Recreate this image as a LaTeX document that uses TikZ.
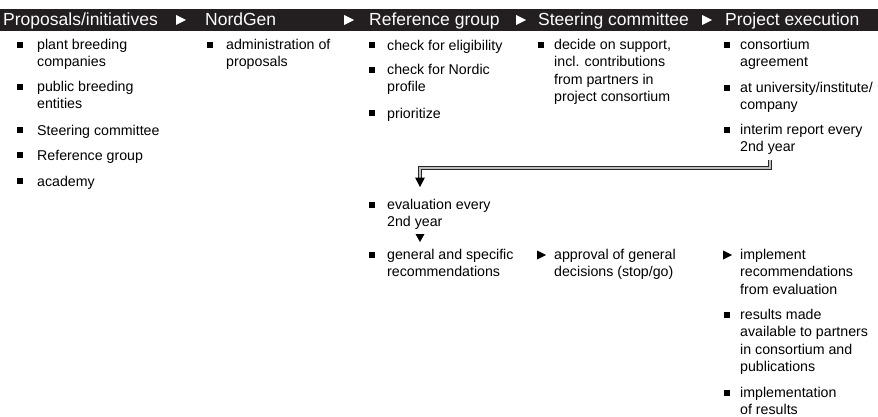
\documentclass[tikz,border=0pt]{standalone}
\usepackage{fontspec}
\setmainfont{Liberation Sans}
\definecolor{barblack}{RGB}{35,31,32}
\begin{document}
\begin{tikzpicture}[x=1pt,y=-1pt,
  hdr/.style={text=white, font=\fontsize{17.5}{21}\selectfont, anchor=base west, inner sep=0pt},
  itm/.style={font=\fontsize{14.2}{17.5}\selectfont, anchor=north west, inner sep=0pt, align=left, execute at begin node=\rule{0pt}{11pt}},
  bul/.style={fill=black, draw=none, minimum size=6.5pt, inner sep=0pt},
  wtri/.style={fill=white},
  btri/.style={fill=black},
  dbl/.style={draw=black!85, line width=0.6pt, double=black!25, double distance=2.2pt}]
\useasboundingbox (0,0) rectangle (878,417);
% header bar
\fill[barblack] (0,9) rectangle (878,31);
\node[hdr] (h1) at (3,26) {Proposals/initiatives};
\node[hdr] (h2) at (205,26) {NordGen};
\node[hdr] (h3) at (369,26) {Reference group};
\node[hdr] (h4) at (538,26) {Steering committee};
\node[hdr] (h5) at (725,26) {Project execution};
\foreach \x in {176,344,516,702}{
  \fill[wtri] (\x,15) -- (\x+10,20) -- (\x,25) -- cycle;
}
% column 1
\node[itm] (c1a) at (37,39) {plant breeding\\companies};
\node[itm] (c1b) at (37,81) {public breeding\\entities};
\node[itm] (c1c) at (37,124) {Steering committee};
\node[itm] (c1d) at (37,149) {Reference group};
\node[itm] (c1e) at (37,175) {academy};
\foreach \y in {45,87,130,155,181}{ \node[bul] at (20,\y) {}; }
% column 2
\node[itm] (c2a) at (226,39) {administration of\\proposals};
\node[bul] at (210,45) {};
% column 3
\node[itm] (c3a) at (387,39) {check for eligibility};
\node[itm] (c3b) at (387,64) {check for Nordic\\profile};
\node[itm] (c3c) at (387,107) {prioritize};
\node[itm] (c3d) at (387,199) {evaluation every\\2nd year};
\node[itm] (c3e) at (387,249) {general and specific\\recommendations};
\foreach \y in {45,70,113,205,255}{ \node[bul] at (372,\y) {}; }
\fill[btri] (415.5,234) -- (424.5,234) -- (420,242) -- cycle;
% column 4
\node[itm] (c4a) at (554,39) {decide on support,\\incl. contributions\\from partners in\\project consortium};
\node[bul] at (541,45) {};
\node[itm] (c4b) at (554,249) {approval of general\\decisions (stop/go)};
\fill[btri] (537,250.5) -- (546,255) -- (537,259.5) -- cycle;
% column 5
\node[itm] (c5a) at (740,39) {consortium\\agreement};
\node[itm] (c5b) at (740,82) {at university/institute/\\company};
\node[itm] (c5c) at (740,124) {interim report every\\2nd year};
\foreach \y in {45,88,130}{ \node[bul] at (727,\y) {}; }
\node[itm] (c5d) at (740,249) {implement\\recommendations\\from evaluation};
\fill[btri] (723,250.5) -- (732,255) -- (723,259.5) -- cycle;
\node[itm] (c5e) at (740,309) {results made\\available to partners\\in consortium and\\publications};
\node[itm] (c5f) at (740,387) {implementation\\of results};
\foreach \y in {315,393}{ \node[bul] at (727,\y) {}; }
% double-line connector
\coordinate (s) at (770,160);
\coordinate (k1) at (770,168);
\coordinate (k2) at (420,168);
\coordinate (e) at (420,178);
\draw[dbl] (s) -- (k1) -- (k2) -- (e);
\fill[black] (415,177.5) -- (425,177.5) -- (420,187) -- cycle;
\end{tikzpicture}
\end{document}
